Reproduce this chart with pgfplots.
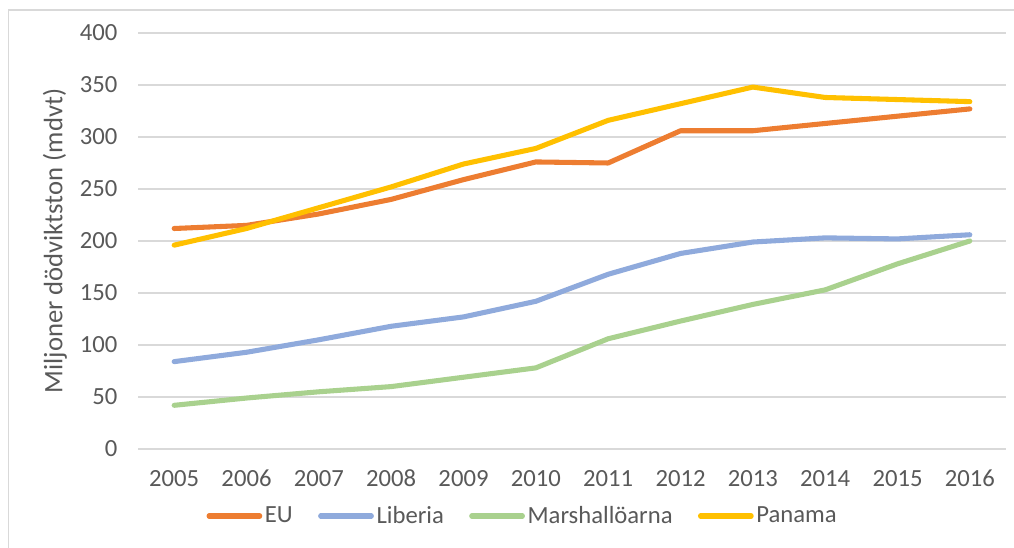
\documentclass[border=0pt]{standalone}
\usepackage{pgfplots}
\pgfplotsset{compat=1.18}
\usepackage{fontspec}
\setmainfont{Carlito}
\definecolor{cEU}{HTML}{ED7D31}
\definecolor{cLib}{HTML}{8FAADC}
\definecolor{cMar}{HTML}{A9D18E}
\definecolor{cPan}{HTML}{FFC000}
\definecolor{txt}{HTML}{595959}
\definecolor{grd}{HTML}{D9D9D9}
\begin{document}
\begin{tikzpicture}
\useasboundingbox (0,0) rectangle (760.5pt,411pt);
\draw[grd, line width=1pt] (6.4pt,-5pt) rectangle (770pt,403.5pt);
\begin{axis}[
  at={(103.5pt,74.25pt)}, anchor=south west,
  scale only axis, width=651pt, height=312pt,
  xmin=-0.5, xmax=11.5, ymin=0, ymax=400,
  axis line style={draw=none},
  ytick={0,50,...,400},
  xtick={0,...,11},
  xticklabels={2005,2006,2007,2008,2009,2010,2011,2012,2013,2014,2015,2016},
  ymajorgrids, grid style={grd, line width=1pt},
  major tick length=0pt,
  /pgf/number format/assume math mode=true,
  tick label style={font=\fontsize{18.5}{20}\selectfont, text=txt},
  yticklabel style={anchor=east, xshift=-12pt},
  xticklabel style={anchor=center, yshift=-22pt},
  ylabel={Miljoner dödviktston (mdvt)},
  ylabel style={at={(axis description cs:-0.0956,0.5)}, anchor=center, font=\fontsize{20}{24}\selectfont, text=txt},
  legend columns=4,
  legend style={at={(axis description cs:0.4435,-0.161)}, anchor=center, draw=none, fill=none,
    font=\fontsize{18.5}{20}\selectfont, text=txt,
    /tikz/every even column/.append style={column sep=17pt}},
  legend image code/.code={\draw[#1, line cap=round] (0pt,0pt) -- (38pt,0pt);},
  every axis plot/.append style={line width=3.8pt, line cap=round, line join=round},
]
\addplot[cEU] coordinates {(0,212) (1,215) (2,226) (3,240) (4,259) (5,276) (6,275) (7,306) (8,306) (9,313) (10,320) (11,327)};
\addlegendentry{EU}
\addplot[cLib] coordinates {(0,84) (1,93) (2,105) (3,118) (4,127) (5,142) (6,168) (7,188) (8,199) (9,203) (10,202) (11,206)};
\addlegendentry{Liberia}
\addplot[cMar] coordinates {(0,42) (1,49) (2,55) (3,60) (4,69) (5,78) (6,106) (7,123) (8,139) (9,153) (10,178) (11,200)};
\addlegendentry{Marshallöarna}
\addplot[cPan] coordinates {(0,196) (1,212) (2,232) (3,252) (4,274) (5,289) (6,316) (7,332) (8,348) (9,338) (10,336) (11,334)};
\addlegendentry{Panama}
\end{axis}
\end{tikzpicture}
\end{document}
